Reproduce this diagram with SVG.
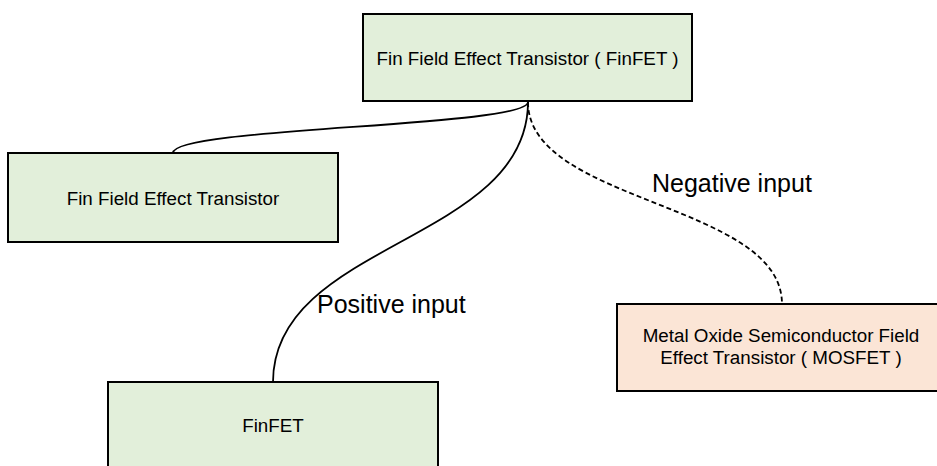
<svg xmlns="http://www.w3.org/2000/svg" width="937" height="466" viewBox="0 0 937 466">
<style>
.node rect{stroke:#000;stroke-width:2}
.green{fill:#e2efda}
.orange{fill:#fbe5d6}
.nt{font-family:"Liberation Sans",Arial,sans-serif;font-size:18.8px;fill:#000;text-anchor:middle}
.lbl{font-family:"Liberation Sans",Arial,sans-serif;font-size:25px;fill:#000}
.edge{fill:none;stroke:#000;stroke-width:1.8}
.dash{stroke-dasharray:5 3}
</style>
<rect width="937" height="466" fill="#fff"/>
<g id="connectors">
<path class="edge" d="M528,102 C528,127 173,127 173,153"/>
<path class="edge" d="M528,102 C528,242 273,242 273,382"/>
<path class="edge dash" d="M528,102 C528,203 782,203 782,304"/>
<text class="lbl" x="652" y="192">Negative input</text>
<text class="lbl" x="317" y="313">Positive input</text>
</g>
<g id="node-finfet-top" class="node">
<rect class="green" x="363" y="14" width="329" height="87"/>
<text class="nt" x="527.5" y="65">Fin Field Effect Transistor ( FinFET )</text>
</g>
<g id="node-fin-fet" class="node">
<rect class="green" x="8" y="153" width="330" height="89"/>
<text class="nt" x="173" y="205">Fin Field Effect Transistor</text>
</g>
<g id="node-finfet" class="node">
<rect class="green" x="108" y="382" width="330" height="90"/>
<text class="nt" x="273" y="432">FinFET</text>
</g>
<g id="node-mosfet" class="node">
<rect class="orange" x="617" y="304" width="330" height="87"/>
<text class="nt" x="781" y="342">Metal Oxide Semiconductor Field</text>
<text class="nt" x="781" y="363.5">Effect Transistor ( MOSFET )</text>
</g>
</svg>
